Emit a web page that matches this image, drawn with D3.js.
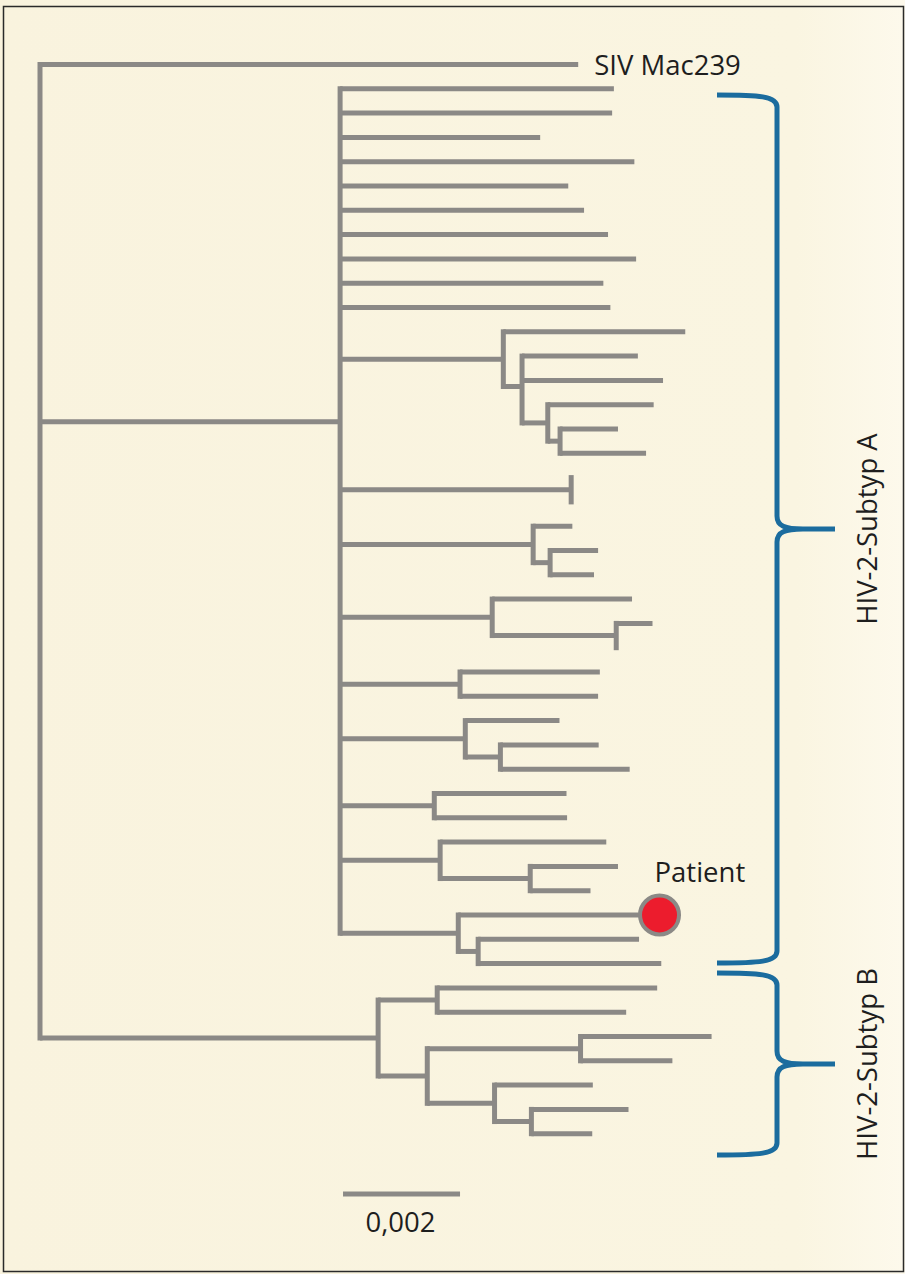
<!DOCTYPE html>
<html>
<head>
<meta charset="utf-8">
<script src="https://cdn.jsdelivr.net/npm/d3@7"></script>
<style>
  html, body { margin: 0; padding: 0; background: #ffffff; }
  svg { display: block; }
</style>
</head>
<body>
<script>
// ---- Tree data (parent table with branch lengths, substitutions per site) ----
const nodeIds = [
  "root", "SIV", "A",
  "A1", "A2", "A3", "A4", "A5", "A6", "A7", "A8", "A9", "A10",
  "c11", "c11a", "c11n", "c11b", "c11c", "c11m", "c11d", "c11k", "c11e", "c11f",
  "c12", "c12a", "c12b",
  "c13", "c13a", "c13n", "c13b", "c13c",
  "c14", "c14a", "c14n", "c14b", "c14c",
  "c15", "c15a", "c15b",
  "c16", "c16a", "c16n", "c16b", "c16c",
  "c17", "c17a", "c17b",
  "c18", "c18a", "c18n", "c18b", "c18c",
  "c19", "Patient", "c19n", "c19b", "c19c",
  "B", "B1", "B1a", "B1b", "B2", "B2n", "B2a", "B2b", "B2m", "B2c", "B2k", "B2d", "B2e"
];
const parentIds = [
  "", "root", "root",
  "A", "A", "A", "A", "A", "A", "A", "A", "A", "A",
  "A", "c11", "c11", "c11n", "c11n", "c11n", "c11m", "c11m", "c11k", "c11k",
  "A", "c12", "c12",
  "A", "c13", "c13", "c13n", "c13n",
  "A", "c14", "c14", "c14n", "c14n",
  "A", "c15", "c15",
  "A", "c16", "c16", "c16n", "c16n",
  "A", "c17", "c17",
  "A", "c18", "c18", "c18n", "c18n",
  "A", "c19", "c19", "c19n", "c19n",
  "root", "B", "B1", "B1", "B", "B2", "B2n", "B2n", "B2", "B2m", "B2m", "B2k", "B2k"
];
const branchLengths = [
  0, 0.0092, 0.00513,
  0.00468, 0.00465, 0.00342, 0.00503, 0.0039, 0.00417, 0.00458, 0.00506, 0.0045, 0.00462,
  0.00279, 0.00311, 0.00032, 0.00198, 0.00241, 0.00044, 0.00181, 0.00021, 0.00099, 0.00147,
  0.00395, 0, 0,
  0.0033, 0.00067, 0.00029, 0.00082, 0.00075,
  0.0026, 0.00239, 0.00212, 0.00062, 0,
  0.00205, 0.00239, 0.00236,
  0.00214, 0.00161, 0.0006, 0.00168, 0.00221,
  0.00161, 0.00226, 0.00227,
  0.00171, 0.00284, 0.00154, 0.0015, 0.00103,
  0.00202, 0.00344, 0.00034, 0.00275, 0.00313,
  0.00578, 0.00101, 0.00376, 0.00323, 0.00084, 0.00262, 0.00224, 0.00157, 0.00115, 0.00168, 0.00063, 0.00166, 0.00104
];
const tipLabels = { "SIV": "SIV Mac239", "Patient": "Patient" };
const cladeNames = ["HIV-2-Subtyp A", "HIV-2-Subtyp B"];
const scaleBarValue = 0.002;
const scaleBarLabel = "0,002";

// ---- Layout ----
const W = 905, H = 1274;
const treeColor = "#8b8986", braceColor = "#1b6c9e", textColor = "#1e1e1e";
const fontFamily = "'Open Sans', 'Noto Sans', sans-serif";
const fontSize = 27.5;

const svg = d3.select("body").append("svg").attr("width", W).attr("height", H);
const defs = svg.append("defs");
const grad = defs.append("linearGradient").attr("id", "bg").attr("x1", 0).attr("x2", 1).attr("y1", 0).attr("y2", 0);
grad.append("stop").attr("offset", "0").attr("stop-color", "#f9f3de");
grad.append("stop").attr("offset", "0.88").attr("stop-color", "#faf5e1");
grad.append("stop").attr("offset", "1").attr("stop-color", "#fdf9ec");
svg.append("rect").attr("x", 0).attr("y", 0).attr("width", W).attr("height", H).attr("fill", "url(#bg)");
svg.append("rect").attr("x", 3.5).attr("y", 6.5).attr("width", W - 5).attr("height", H - 9)
  .attr("fill", "none").attr("stroke", "#2a2a2a").attr("stroke-width", 1.5);

const table = nodeIds.map((id, i) => ({ id, parent: parentIds[i] || null, len: branchLengths[i] }));
const root = d3.stratify().id(d => d.id).parentId(d => d.parent)(table);
root.eachBefore(n => { n.depthLen = n.parent ? n.parent.depthLen + n.data.len : 0; });

const leaves = root.leaves();
const x = d3.scaleLinear().domain([0, 0.01]).range([40, 625]);
const y = d3.scalePoint().domain(leaves.map(d => d.id)).range([64.5, 1133.7]);
// node y = mean of children y
root.eachAfter(n => {
  n.py = n.children ? d3.mean(n.children, c => c.py) : y(n.id);
  n.px = x(n.depthLen);
});

const g = svg.append("g").attr("stroke", treeColor).attr("stroke-width", 5).attr("fill", "none");
// horizontal branches
g.selectAll("line.h").data(root.descendants().filter(d => d.parent)).join("line")
  .attr("class", "h")
  .attr("x1", d => d.parent.px).attr("x2", d => d.px)
  .attr("y1", d => d.py).attr("y2", d => d.py);
// vertical connectors
g.selectAll("line.v").data(root.descendants().filter(d => d.children)).join("line")
  .attr("class", "v")
  .attr("x1", d => d.px).attr("x2", d => d.px)
  .attr("y1", d => d.children[0].py - 2.5)
  .attr("y2", d => d.children[d.children.length - 1].py + 2.5);

// patient marker
const patient = root.find(d => d.id === "Patient");
svg.append("circle").attr("cx", patient.px).attr("cy", patient.py).attr("r", 19.5)
  .attr("fill", "#ec1c2d").attr("stroke", treeColor).attr("stroke-width", 4);

// tip labels
const siv = root.find(d => d.id === "SIV");
svg.append("text").attr("x", siv.px + 16).attr("y", siv.py + 10)
  .attr("font-family", fontFamily).attr("font-size", fontSize).attr("fill", textColor)
  .text(tipLabels["SIV"]);
svg.append("text").attr("x", patient.px - 5).attr("y", patient.py - 33)
  .attr("font-family", fontFamily).attr("font-size", fontSize).attr("fill", textColor)
  .text(tipLabels["Patient"]);

// scale bar
const sbStart = 0.00518;
const sbY = 1194;
svg.append("line").attr("x1", x(sbStart)).attr("x2", x(sbStart + scaleBarValue))
  .attr("y1", sbY).attr("y2", sbY).attr("stroke", treeColor).attr("stroke-width", 5);
svg.append("text").attr("x", (x(sbStart) + x(sbStart + scaleBarValue)) / 2 - 1).attr("y", sbY + 38)
  .attr("text-anchor", "middle").attr("font-family", fontFamily).attr("font-size", fontSize).attr("fill", textColor)
  .text(scaleBarLabel);

// braces
function bracePath(y0, y1, xl, xv, xt) {
  const ym = (y0 + y1) / 2;
  return `M${xl},${y0} C${xv - 18},${y0} ${xv},${y0 + 1} ${xv},${y0 + 12}` +
    ` L${xv},${ym - 13} C${xv},${ym - 3} ${xv + 8},${ym} ${xv + 26},${ym} L${xt},${ym}` +
    ` M${xt},${ym} L${xv + 26},${ym} C${xv + 8},${ym} ${xv},${ym + 3} ${xv},${ym + 13}` +
    ` L${xv},${y1 - 12} C${xv},${y1 - 1} ${xv - 18},${y1} ${xl},${y1}`;
}
const braces = [[95, 963], [973, 1155]];
svg.selectAll("path.brace").data(braces).join("path")
  .attr("class", "brace")
  .attr("d", d => bracePath(d[0], d[1], 717, 777, 835))
  .attr("fill", "none").attr("stroke", braceColor).attr("stroke-width", 5)
  .attr("stroke-linecap", "butt").attr("stroke-linejoin", "round");

svg.selectAll("text.clade").data(braces).join("text")
  .attr("class", "clade")
  .attr("transform", d => `translate(877,${(d[0] + d[1]) / 2}) rotate(-90)`)
  .attr("text-anchor", "middle").attr("font-family", fontFamily).attr("font-size", fontSize).attr("fill", textColor)
  .text((d, i) => cladeNames[i]);
</script>
</body>
</html>
